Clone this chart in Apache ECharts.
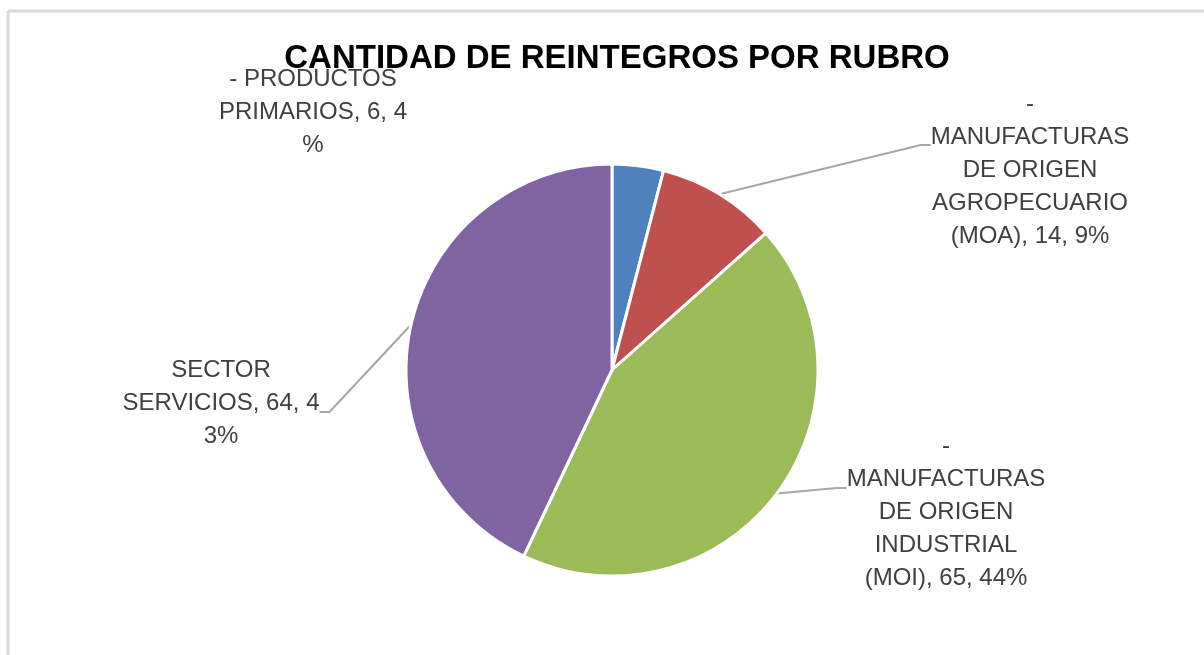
<!DOCTYPE html>
<html>
<head>
<meta charset="utf-8">
<script src="https://cdn.jsdelivr.net/npm/echarts@6/dist/echarts.min.js"></script>
<style>
html,body{margin:0;padding:0;background:#fff;}
#main{width:1204px;height:655px;}
</style>
</head>
<body>
<div id="main"></div>
<script>
const titleText = 'CANTIDAD DE REINTEGROS POR RUBRO';
const categories = [
  '- PRODUCTOS\nPRIMARIOS',
  '-\nMANUFACTURAS\nDE ORIGEN\nAGROPECUARIO\n(MOA)',
  '-\nMANUFACTURAS\nDE ORIGEN\nINDUSTRIAL\n(MOI)',
  'SECTOR\nSERVICIOS'
];
const values = [6, 14, 65, 64];
const colors = ['#4F81BD', '#C0504D', '#9BBB59', '#8064A2'];
const wrapPercent = [true, false, false, true];
const showLine = [false, true, true, true];

// label anchor (x, y) where the leader line meets the label
const labelPos = [[313, 112], [1030, 145], [946, 488], [221, 412]];
// spacer height added above (+) or below (-) the label text to offset the leader-line anchor
const labelSpacer = [0, 50, 48, -18];

const chart = echarts.init(document.getElementById('main'));
chart.setOption({
  animation: false,
  backgroundColor: '#fff',
  title: {
    text: titleText,
    left: 612,
    textAlign: 'center',
    top: 37,
    textStyle: { fontFamily: 'Liberation Sans', fontWeight: 'bold', fontSize: 33, color: '#000' }
  },
  graphic: [
    { type: 'line', shape: { x1: 8, y1: 11, x2: 1204, y2: 11 }, style: { stroke: '#D9D9D9', lineWidth: 3 } },
    { type: 'line', shape: { x1: 8, y1: 11, x2: 8, y2: 655 }, style: { stroke: '#D9D9D9', lineWidth: 3 } }
  ],
  series: [{
    type: 'pie',
    center: [612, 370],
    radius: 206,
    startAngle: 90,
    clockwise: true,
    percentPrecision: 0,
    emphasis: { disabled: true },
    itemStyle: { borderColor: '#fff', borderWidth: 3 },
    label: {
      show: true,
      fontFamily: 'Liberation Sans',
      fontSize: 24,
      lineHeight: 33,
      color: '#404040',
      align: 'center',
      formatter: function (p) {
        const i = p.dataIndex;
        const pct = String(p.percent) + '%';
        const pctTxt = wrapPercent[i] ? pct.slice(0, 1) + '\n' + pct.slice(1) : pct;
        let txt = p.name + ', ' + p.value + ', ' + pctTxt;
        if (labelSpacer[i] > 0) txt = '{s| }\n' + txt;
        if (labelSpacer[i] < 0) txt = txt + '\n{s| }';
        return txt;
      }
    },
    labelLine: { show: true, lineStyle: { color: '#A6A6A6', width: 2 }, length: 20, length2: 10 },
    labelLayout: function (params) {
      const pos = labelPos[params.dataIndex];
      return { x: pos[0], y: pos[1], align: 'center', verticalAlign: 'middle' };
    },
    data: values.map((v, i) => ({
      name: categories[i],
      value: v,
      itemStyle: { color: colors[i] },
      label: { rich: { s: { fontSize: 1, lineHeight: Math.abs(labelSpacer[i]) || 1 } } },
      labelLine: { show: showLine[i] }
    }))
  }]
});
</script>
</body>
</html>
